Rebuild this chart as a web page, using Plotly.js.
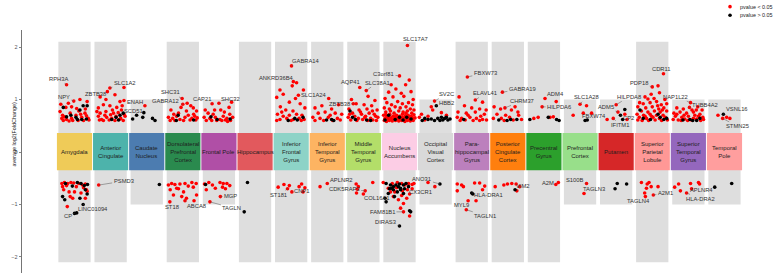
<!DOCTYPE html>
<html>
<head>
<meta charset="utf-8">
<script src="https://cdn.plot.ly/plotly-3.0.1.min.js"></script>
<style>
  html, body { margin: 0; padding: 0; background: #fff; }
  #chart { width: 779px; height: 279px; }
</style>
</head>
<body>
<div id="chart"></div>
<script>
// Brain regions, in plotting order
const regions = [
  "Amygdala", "Anterior Cingulate", "Caudate Nucleus", "Dorsolateral Prefrontal Cortex",
  "Frontal Pole", "Hippocampus", "Inferior Frontal Gyrus", "Inferior Temporal Gyrus",
  "Middle Temporal Gyrus", "Nucleus Accumbens", "Occipital Visual Cortex",
  "Parahippocampal Gyrus", "Posterior Cingulate Cortex", "Precentral Gyrus",
  "Prefrontal Cortex", "Putamen", "Superior Parietal Lobule", "Superior Temporal Gyrus",
  "Temporal Pole"
];
const regionLabels = [
  "Amygdala", "Anterior<br>Cingulate", "Caudate<br>Nucleus", "Dorsolateral<br>Prefrontal<br>Cortex",
  "Frontal Pole", "Hippocampus", "Inferior<br>Frontal<br>Gyrus", "Inferior<br>Temporal<br>Gyrus",
  "Middle<br>Temporal<br>Gyrus", "Nucleus<br>Accumbens", "Occipital<br>Visual<br>Cortex",
  "Para-<br>hippocampal<br>Gyrus", "Posterior<br>Cingulate<br>Cortex", "Precentral<br>Gyrus",
  "Prefrontal<br>Cortex", "Putamen", "Superior<br>Parietal<br>Lobule", "Superior<br>Temporal<br>Gyrus",
  "Temporal<br>Pole"
];
const regionColors = [
  "#EFCB58", "#4DB3AB", "#4C7CB0", "#2A8A4E", "#B04FA6", "#E2595D", "#8DD3C7",
  "#FDB462", "#B3DE69", "#FCCDE5", "#D9D9D9", "#BC80BD", "#FF7F0E", "#2CA02C",
  "#98DF8A", "#D62728", "#FF9896", "#9467BD", "#FF9E9E"
];

// Genes per region: [jitter within column, average log2 fold change, significant (1 = p < 0.05), gene label]
const amygdala = [
  [-0.22,1.28,1,"RPH3A"],[-0.02,0.97,1,"NPY"],[0.15,1.0,1],[0.35,0.96,1],[-0.38,0.91,1],[-0.17,0.93,1],
  [-0.24,0.85,1],[-0.08,0.86,1],[0.06,0.83,1],[0.30,0.82,1],[-0.33,0.70,1],[-0.12,0.74,1],[0.04,0.70,1],
  [0.29,0.74,1],[-0.35,0.64,1],[-0.22,0.62,1],[-0.08,0.64,1],[0.20,0.66,1],[0.38,0.64,1],[-0.31,0.60,1],
  [-0.15,0.59,1],[0.10,0.60,1],[0.25,0.60,1],[0.40,0.61,1],[-0.40,0.77,1],[0.12,0.78,1],[-0.28,0.67,1],
  [0.33,0.69,1],[-0.05,0.60,1],[0.17,0.72,1],
  [-0.31,0.85,0],[0.15,0.80,0],[0.24,0.88,0],[0.35,0.88,0],[-0.10,0.70,0],[0.04,0.66,0],[0.20,0.62,0],
  [0.33,0.63,0],[-0.22,0.67,0],[0.08,0.62,0],
  [-0.35,-0.60,1],[-0.28,-0.58,1],[-0.19,-0.60,1],[-0.10,-0.58,1],[-0.02,-0.59,1],[0.12,-0.60,1],
  [0.22,-0.63,1],[0.30,-0.61,1],[-0.33,-0.66,1],[-0.22,-0.64,1],[0.05,-0.66,1],[0.25,-0.68,1],
  [0.33,-0.72,1],[-0.30,-0.72,1],[-0.15,-0.76,1],[0.0,-0.76,1],[0.18,-0.78,1],[0.35,-0.75,1],
  [-0.12,-0.85,1],[-0.05,-0.88,1],[0.30,-0.88,1],[-0.20,-1.04,1],
  [-0.25,-0.60,0],[0.08,-0.58,0],[0.18,-0.60,0],[0.27,-0.64,0],[0.36,-0.62,0],[-0.06,-0.65,0],
  [0.35,-0.80,0],[0.30,-0.72,0],[-0.33,-0.85,0],[-0.27,-0.91,0],[0.15,-0.88,0],[0.24,-1.0,0,"LINC01094"],
  [0.0,-1.17,0,"CP"],[0.06,-1.16,0]
];
const anteriorCingulate = [
  [0.37,1.23,1],[-0.02,1.22,1,"SLC1A2"],[-0.09,1.15,1,"ZBTB38"],[-0.29,1.05,1],[-0.13,1.0,1],[0.26,0.96,1],
  [0.37,0.98,1],[0.12,1.09,1],[-0.34,0.84,1],[-0.20,0.90,1],[-0.02,0.88,1],[0.17,0.85,1],[0.30,0.80,1],
  [-0.29,0.74,1],[-0.13,0.77,1],[0.08,0.74,1],[0.21,0.75,1],[0.37,0.72,1],[-0.34,0.68,1],[-0.25,0.62,1],
  [-0.11,0.66,1],[0.03,0.64,1],[0.15,0.68,1],[0.28,0.64,1],[0.40,0.68,1],[-0.31,0.61,1],[-0.20,0.60,1],
  [-0.04,0.61,1],[0.12,0.60,1],[0.24,0.62,1],[0.35,0.60,1],[-0.16,0.70,1],[0.05,0.80,1],[0.32,0.88,1],
  [-0.38,0.77,1],[0.0,0.71,1],
  [0.03,0.62,0],[0.15,0.66,0],[0.26,0.70,0],[0.35,0.74,0],[0.22,0.61,0],
  [-0.33,-0.63,1,"PSMD3"]
];
const caudateNucleus = [
  [-0.05,0.88,1,"ENAH"],[-0.08,0.75,0,"SCD51"],[-0.39,0.63,0],[-0.28,0.70,0],[-0.11,0.66,0],
  [0.16,0.64,0],[0.23,0.60,0],
  [0.35,-0.62,0]
];
const dorsolateralPFC = [
  [-0.02,1.02,1,"SHC31"],[0.0,0.91,1,"GABRA12"],[0.12,0.93,1],[-0.33,0.80,1],[0.29,0.84,1],[0.38,0.78,1],
  [-0.40,0.66,1],[-0.28,0.64,1],[-0.17,0.68,1],[-0.08,0.62,1],[0.06,0.66,1],[0.15,0.70,1],[0.25,0.64,1],
  [0.33,0.68,1],[-0.35,0.60,1],[-0.22,0.60,1],[0.02,0.60,1],[0.20,0.61,1],[0.36,0.61,1],[-0.12,0.74,1],
  [0.10,0.78,1],[0.30,0.72,1],[-0.25,0.72,1],[0.22,0.88,1],[-0.05,0.85,1],[0.40,0.65,1],
  [-0.13,0.70,0],[-0.18,0.60,0],[0.30,0.61,0],
  [-0.40,-0.63,1],[-0.31,-0.60,1],[-0.22,-0.62,1],[-0.08,-0.61,1],[0.06,-0.60,1],[0.25,-0.58,1],
  [0.37,-0.60,1],[-0.35,-0.72,1],[-0.17,-0.69,1],[0.02,-0.76,1],[0.29,-0.67,1],[-0.26,-0.82,1],
  [-0.03,-0.85,1],[0.10,-0.88,1],[0.31,-0.93,1],[0.38,-0.82,1],[-0.36,-0.95,1,"ST18"],
  [0.06,-0.93,1,"ABCA8"],[0.15,-0.65,1],[-0.12,-0.70,1]
];
const frontalPole = [
  [-0.19,0.92,1,"CAP21"],[0.0,0.93,1,"SHC32"],[0.35,0.95,1],[0.28,0.85,1],[-0.38,0.80,1],[-0.30,0.74,1],
  [-0.16,0.72,1],[0.05,0.80,1],[0.15,0.76,1],[0.30,0.72,1],[-0.41,0.66,1],[-0.25,0.64,1],[-0.10,0.66,1],
  [0.03,0.62,1],[0.12,0.68,1],[0.22,0.64,1],[0.38,0.66,1],[-0.35,0.60,1],[-0.20,0.60,1],[-0.06,0.60,1],
  [0.08,0.60,1],[0.18,0.61,1],[0.32,0.60,1],[-0.12,0.80,1],[0.24,0.58,1],
  [-0.22,0.67,0],[0.31,0.63,0],[-0.05,0.62,0],
  [-0.28,-0.58,1],[0.03,-0.58,1],[0.12,-0.60,1],[0.22,-0.60,1],[-0.35,-0.72,1],[-0.10,-0.69,1],
  [0.10,-0.67,1],[0.30,-0.64,1],[-0.40,-0.61,1],[-0.18,-0.63,1],[0.04,-0.85,1,"MGP"],
  [-0.25,-0.95,1,"TAGLN"],[0.18,-0.70,1],
  [-0.37,-0.62,0]
];
const hippocampus = [
  [-0.21,-0.58,0],[-0.30,-1.14,0]
];
const inferiorFrontal = [
  [0.01,1.64,1,"GABRA14"],[0.06,1.34,1,"ANKRD36B4"],[0.15,1.32,1],[0.03,1.26,1],[-0.31,1.18,1],[0.34,1.18,1],
  [-0.22,1.10,1],[0.20,1.08,1],[-0.40,1.04,1],[0.12,1.02,1],[-0.05,0.95,1],[0.25,0.92,1],[-0.30,0.86,1],
  [0.38,0.84,1],[-0.15,0.80,1],[0.05,0.78,1],[-0.38,0.72,1],[-0.22,0.68,1],[-0.05,0.70,1],[0.15,0.72,1],
  [0.30,0.70,1],[-0.31,0.62,1],[-0.12,0.64,1],[0.06,0.62,1],[0.22,0.64,1],[0.36,0.62,1],[-0.40,0.60,1],
  [0.0,0.60,1],[0.28,0.60,1],[-0.26,0.76,1],
  [0.10,0.64,0],[0.17,0.61,0],[-0.08,0.60,0],[0.33,0.66,0],
  [-0.36,-0.67,1],[-0.05,-0.64,1],[0.22,-0.66,1],[0.29,-0.61,1],[0.38,-0.68,1],[0.33,-0.76,1],
  [0.02,-0.76,1,"CNP1"],[-0.10,-0.70,1,"ST181"],[-0.20,-0.62,1]
];
const inferiorTemporal = [
  [0.04,1.02,1,"SLC1A24"],[-0.34,0.84,1],[-0.15,0.88,1],[0.12,0.82,1],[0.31,0.90,1],[-0.25,0.74,1],
  [-0.06,0.76,1],[0.22,0.74,1],[0.40,0.72,1],[-0.40,0.66,1],[-0.20,0.64,1],[0.03,0.66,1],[0.28,0.64,1],
  [-0.34,0.60,1],[-0.10,0.60,1],[0.15,0.60,1],[0.36,0.61,1],[0.08,0.70,1],
  [0.12,0.62,0],[0.18,0.60,0],[-0.02,0.61,0],
  [0.0,-0.60,1,"APLNR2"],[-0.20,-0.66,1]
];
const middleTemporal = [
  [-0.10,1.23,1,"AQP41"],[0.08,1.17,1,"SLC38A1"],[-0.33,1.0,1],[0.13,1.06,1],[0.32,0.98,1],[-0.20,0.92,1],
  [0.02,0.90,1],[0.23,0.88,1],[-0.40,0.82,1],[-0.12,0.80,1],[0.10,0.82,1],[0.38,0.80,1],[-0.30,0.74,1],
  [-0.05,0.72,1],[0.16,0.74,1],[0.30,0.72,1],[-0.42,0.66,1],[-0.24,0.68,1],[-0.14,0.64,1],[0.04,0.66,1],
  [0.20,0.64,1],[0.40,0.66,1],[-0.35,0.61,1],[-0.18,0.60,1],[-0.02,0.62,1],[0.12,0.60,1],[0.26,0.61,1],
  [0.36,0.60,1],[-0.08,0.76,1],[0.25,0.78,1],[-0.28,0.92,1,"ZBTB38"],[0.06,0.68,1],[-0.38,0.72,1],[0.34,0.68,1],
  [-0.37,0.78,0],[-0.30,0.66,0],[0.09,0.61,0],[-0.22,0.62,0],[0.20,0.60,0],
  [-0.20,-0.61,1],[-0.14,-0.66,1],[0.26,-0.58,1],[-0.17,-0.71,1],[-0.19,-0.78,1],
  [0.05,-0.74,1,"CDK5RAP3"],[0.0,-0.80,1,"COL16A1"]
];
const nucleusAccumbens = [
  [0.22,2.03,1,"SLC17A7"],[0.0,1.45,1,"C3orf81"],[0.27,1.37,1],[-0.23,1.28,1],[0.17,1.28,1],[-0.30,1.14,1],
  [-0.10,1.20,1],[0.05,1.12,1],[0.32,1.15,1],[-0.40,1.02,1],[-0.18,1.05,1],[0.12,1.06,1],[0.38,1.0,1],
  [-0.35,0.94,1],[-0.22,0.90,1],[-0.05,0.96,1],[0.08,0.92,1],[0.25,0.94,1],[0.36,0.90,1],[-0.42,0.84,1],
  [-0.28,0.82,1],[-0.12,0.86,1],[0.02,0.84,1],[0.18,0.86,1],[0.30,0.82,1],[0.40,0.80,1],[-0.38,0.76,1],
  [-0.25,0.78,1],[-0.15,0.74,1],[-0.02,0.78,1],[0.10,0.76,1],[0.22,0.78,1],[0.34,0.74,1],
  [-0.44,0.70,1],[-0.35,0.68,1],[-0.27,0.72,1],[-0.18,0.68,1],[-0.08,0.70,1],[0.0,0.68,1],[0.08,0.72,1],
  [0.16,0.69,1],[0.24,0.70,1],[0.32,0.68,1],[0.40,0.71,1],[-0.40,0.64,1],[-0.32,0.62,1],[-0.24,0.65,1],
  [-0.15,0.63,1],[-0.06,0.65,1],[0.03,0.63,1],[0.12,0.65,1],[0.20,0.62,1],[0.28,0.64,1],[0.36,0.63,1],
  [0.43,0.65,1],[-0.42,0.60,1],[-0.36,0.58,1],[-0.28,0.60,1],[-0.20,0.59,1],[-0.11,0.60,1],[-0.02,0.59,1],
  [0.06,0.60,1],[0.15,0.58,1],[0.22,0.60,1],[0.30,0.59,1],[0.38,0.60,1],[-0.31,0.66,1],[-0.13,0.67,1],
  [0.06,0.66,1],[0.26,0.67,1],[-0.38,0.72,1],[0.18,0.74,1],[-0.05,0.62,1],[0.35,0.66,1],[-0.22,0.62,1],
  [-0.30,0.70,0],[-0.12,0.62,0],[0.10,0.61,0],[0.32,0.63,0],[-0.40,0.61,0],[0.0,0.66,0],[0.20,0.66,0],
  [-0.37,-0.60,0],[-0.25,-0.63,0],[-0.17,-0.66,0],[-0.10,-0.63,0],[-0.03,-0.66,0],[0.03,-0.69,0],
  [0.11,-0.63,0],[0.18,-0.60,0],[-0.31,-0.79,0],[-0.40,-0.88,0],[-0.37,-0.95,0],[0.03,-0.72,0],
  [0.11,-0.79,0],[-0.17,-0.72,0],[-0.06,-0.76,0],[0.0,-0.61,0],[-0.22,-0.69,0],[0.14,-0.70,0],
  [0.31,-1.14,0],[0.0,-1.41,0,"DIRAS3"],[0.28,-1.12,0],[-0.14,-0.85,0],[0.25,-0.66,0],[-0.28,-0.70,0],
  [-0.45,-0.58,1],[-0.20,-0.60,1],[-0.06,-0.58,1],[0.06,-0.60,1],[0.15,-0.63,1],[0.25,-0.60,1],
  [0.35,-0.62,1],[-0.31,-0.69,1],[-0.13,-0.76,1],[0.08,-0.74,1],[0.22,-0.72,1],[0.35,-0.70,1],
  [-0.17,-0.85,1],[-0.03,-0.91,1],[0.11,-0.98,1],[0.03,-1.07,1],[0.06,-0.83,1],[0.28,-0.80,1],
  [0.11,-1.14,1,"FAM81B1"],[0.28,-1.22,1],[-0.25,-0.76,1],[0.20,-0.88,1],[-0.08,-0.68,1],[0.40,-0.60,1]
];
const occipitalVisual = [
  [-0.03,0.97,1,"SV2C"],[-0.39,0.72,1],[-0.12,0.86,1],[-0.08,0.80,1],[-0.30,0.61,1],[-0.45,0.66,1],
  [0.16,0.75,1],[-0.21,0.68,1],[0.30,0.70,1],
  [0.02,0.88,0,"HBB2"],[-0.30,0.64,0],[-0.21,0.62,0],[-0.12,0.63,0],[0.06,0.64,0],[0.16,0.66,0],
  [0.25,0.64,0],[0.34,0.61,0],[-0.03,0.60,0],[0.12,0.60,0],[0.30,0.66,0],[-0.37,0.60,0],[0.40,0.63,0],
  [0.20,0.61,0],
  [0.12,-0.61,0,"ANO31"],[-0.21,-0.58,1],[-0.02,-0.66,1,"CX3CR1"]
];
const parahippocampal = [
  [-0.12,1.43,1,"FBXW73"],[-0.35,1.05,1],[0.10,0.99,1,"ELAVL41"],[0.30,0.95,1],[-0.20,0.88,1],[0.0,0.84,1],
  [0.22,0.82,1],[-0.38,0.76,1],[-0.15,0.74,1],[0.10,0.76,1],[0.35,0.72,1],[-0.40,0.66,1],[-0.28,0.64,1],
  [-0.05,0.66,1],[0.13,0.64,1],[0.30,0.62,1],[-0.32,0.60,1],[-0.18,0.61,1],[0.04,0.60,1],[0.22,0.60,1],
  [0.41,0.61,1],[-0.10,0.70,1],[0.25,0.68,1],[0.40,0.80,1],
  [-0.22,0.62,0],
  [-0.40,-0.61,1],[-0.28,-0.63,1],[-0.23,-0.66,1],[0.08,-0.59,1],[0.22,-0.59,1],[0.36,-0.65,1],
  [-0.40,-0.74,1],[-0.10,-0.93,1,"MYL9"],[-0.15,-1.10,1,"TAGLN1"],[0.12,-0.93,1],[0.30,-0.72,1],
  [0.0,-0.78,0,"HLA-DRA1"],[0.03,-0.80,0]
];
const posteriorCingulate = [
  [-0.15,1.14,1,"GABRA19"],[-0.38,0.86,1],[-0.20,0.82,1],[0.10,0.80,1],[0.20,0.86,1],[0.28,0.76,1],
  [-0.30,0.72,1],[-0.06,0.70,1],[0.30,0.70,1],[-0.40,0.64,1],[-0.18,0.64,1],[0.05,0.66,1],[0.38,0.62,1],
  [-0.10,0.60,1],[0.15,0.61,1],[-0.08,0.84,1,"CHRM37"],
  [-0.25,0.61,0],[0.08,0.62,0],[0.25,0.62,0],[-0.02,0.60,0],
  [-0.35,-0.66,1],[-0.11,-0.63,1],[-0.01,-0.61,1],[0.11,-0.60,1],[0.23,-0.61,1],[0.25,-0.74,1,"VIM2"],
  [0.33,-0.66,1],
  [0.20,-0.72,0]
];
const precentralGyrus = [
  [0.03,1.02,1,"ADM4"],[0.34,0.96,1],[-0.28,0.64,1],[-0.16,0.66,1],[0.17,0.66,1],[0.26,0.67,1],
  [-0.05,0.86,1,"HILPDA6"],
  [-0.39,0.62,0],[0.35,0.62,0],[0.42,0.60,0],[0.12,0.66,0],
  [0.33,-0.62,1,"A2M"],[0.40,-0.58,1]
];
const prefrontalCortex = [
  [-0.19,0.70,1],[0.18,0.88,1],[0.32,0.74,1],[0.0,0.91,1,"SLC1A28"],[0.09,0.74,1,"FBXW74"],
  [0.14,0.60,0],[0.20,0.61,0],
  [0.18,-0.60,1,"S100B"],[0.11,-0.79,1,"TAGLN3"]
];
const putamen = [
  [-0.08,0.64,1,"IFITM1"],[0.0,0.90,1,"HILPDA8"],[0.24,0.72,1],[0.05,0.76,1,"ADM5"],[-0.25,0.62,1],[0.30,0.62,1],
  [0.24,0.81,0],[0.12,0.70,0,"CP2"],[0.18,0.62,0],
  [0.03,-0.60,0],[0.29,-0.61,0],[-0.03,-0.70,0]
];
const superiorParietal = [
  [0.31,1.49,1,"CDR11"],[0.0,1.24,1,"PDP18"],[0.16,1.26,1],[0.20,1.13,1],[-0.03,1.10,1],[-0.20,1.05,1],
  [-0.12,1.01,1],[0.05,1.02,1],[0.35,1.0,1],[-0.35,0.94,1],[-0.25,0.92,1],[-0.06,0.94,1],[0.12,0.96,1],
  [0.25,0.90,1],[0.40,0.92,1],[-0.40,0.86,1],[-0.18,0.84,1],[0.0,0.86,1],[0.18,0.82,1],[0.32,0.84,1],
  [-0.30,0.78,1],[-0.12,0.76,1],[0.06,0.78,1],[0.22,0.76,1],[0.40,0.78,1],[-0.42,0.72,1],[-0.24,0.70,1],
  [-0.06,0.72,1],[0.12,0.70,1],[0.30,0.70,1],[-0.36,0.66,1],[-0.16,0.64,1],[0.02,0.66,1],[0.20,0.64,1],
  [0.36,0.66,1],[-0.40,0.61,1],[-0.28,0.60,1],[-0.10,0.60,1],[0.08,0.61,1],[0.26,0.60,1],[0.42,0.61,1],
  [-0.20,0.68,1],[0.28,0.80,1],[-0.02,0.68,1],[0.15,0.88,1],
  [-0.34,0.80,0],[0.16,0.72,0],[-0.25,0.64,0],[0.32,0.62,0],[-0.05,0.62,0],[0.22,0.66,0],[0.40,0.64,0],
  [-0.30,-0.58,1],[-0.14,-0.61,1],[-0.09,-0.58,1],[-0.03,-0.66,1],[-0.16,-0.69,1],[0.16,-0.66,1],
  [-0.21,-0.78,1],[-0.19,-0.85,1,"TAGLN4"],[0.03,-0.82,1,"A2M1"]
];
const superiorTemporal = [
  [0.06,0.94,1,"NAP1L22"],[0.03,0.85,1,"TUBB4A2"],[-0.32,0.84,1],[-0.14,0.82,1],[0.10,0.80,1],[0.38,0.80,1],
  [-0.40,0.74,1],[-0.23,0.76,1],[-0.05,0.74,1],[0.14,0.76,1],[0.32,0.72,1],[-0.36,0.68,1],[-0.18,0.66,1],
  [0.0,0.68,1],[0.18,0.70,1],[0.40,0.66,1],[-0.42,0.62,1],[-0.28,0.61,1],[-0.10,0.63,1],[0.08,0.61,1],
  [0.23,0.63,1],[0.34,0.60,1],[-0.20,0.60,1],[0.14,0.64,1],[-0.32,0.72,1],[0.26,0.86,1],[0.28,0.68,1],
  [-0.12,0.70,1],[0.42,0.62,1],[-0.02,0.60,1],[0.22,0.80,1],
  [0.04,0.62,0],[0.23,0.60,0],[0.32,0.64,0],[-0.15,0.61,0],[0.12,0.60,0],
  [-0.38,-0.67,1],[-0.27,-0.61,1],[-0.22,-0.74,1],[0.06,-0.60,1],[0.28,-0.58,1],[0.31,-0.61,1],
  [-0.05,-0.78,1,"HLA-DRA2"],[0.09,-0.70,1,"APLNR4"]
];
const temporalPole = [
  [-0.18,0.70,1],[-0.05,0.64,1,"STMN25"],[0.06,0.66,1],[0.15,0.64,1],
  [-0.03,0.72,0,"VSNL16"],
  [-0.27,-0.67,0],[0.20,-0.60,0]
];
const regionGenes = [
  amygdala, anteriorCingulate, caudateNucleus, dorsolateralPFC, frontalPole, hippocampus,
  inferiorFrontal, inferiorTemporal, middleTemporal, nucleusAccumbens, occipitalVisual,
  parahippocampal, posteriorCingulate, precentralGyrus, prefrontalCortex, putamen,
  superiorParietal, superiorTemporal, temporalPole
];

const legendNames = ["pvalue < 0.05", "pvalue > 0.05"];
const yTicks = [-2, -1, 0, 1, 2];

// Label placement: [region index, gene, text offset x (px), text offset y (px)]
const labelPlacement = [
  [0,"RPH3A",-8,-6],[0,"NPY",-10,-4],[1,"ZBTB38",-12,2],[1,"SLC1A2",15,-5],[2,"ENAH",-10,-4],
  [2,"SCD51",-10,-2],[3,"SHC31",-12,-6],[3,"GABRA12",-17,-3],[4,"CAP21",-10,-5],[4,"SHC32",12,-4],
  [6,"GABRA14",14,-5],[6,"ANKRD36B4",-17,-4],[7,"SLC1A24",-15,-3],[8,"ZBTB38",-14,0],[8,"AQP41",-9,-5],
  [8,"SLC38A1",11,-8],[9,"SLC17A7",8,-6],[9,"C3orf81",-16,-2],[10,"SV2C",12,-7],[10,"HBB2",10,-3],
  [11,"FBXW73",18,-4],[11,"ELAVL41",10,-7],[12,"GABRA19",20,-3],[12,"CHRM37",17,-7],[13,"ADM4",10,-4],
  [13,"HILPDA6",17,0],[14,"SLC1A28",6,-7],[14,"FBXW74",11,3],[15,"HILPDA8",13,-8],[15,"ADM5",-12,-5],
  [15,"CP2",8,3],[15,"IFITM1",7,7],[16,"CDR11",-2,-5],[16,"PDP18",-13,-4],[17,"NAP1L22",-15,-6],
  [17,"TUBB4A2",16,-2],[18,"VSNL16",14,-5],[18,"STMN25",15,8],
  [0,"CP",-7,3],[0,"LINC01094",10,5],[1,"PSMD3",25,-4],[3,"ST18",2,5],[3,"ABCA8",11,5],[4,"MGP",10,-1],
  [4,"TAGLN",22,6],[6,"ST181",-9,6],[6,"CNP1",10,-1],[7,"APLNR2",14,-4],[8,"CDK5RAP3",-21,-2],
  [8,"COL16A1",13,4],[9,"FAM81B1",-21,0],[9,"DIRAS3",-14,-4],[10,"CX3CR1",-14,5],[10,"ANO31",-18,-5],
  [11,"MYL9",-7,4],[11,"TAGLN1",19,6],[11,"HLA-DRA1",17,2],[12,"VIM2",6,-5],[13,"A2M",-8,-2],
  [14,"S100B",-12,-4],[14,"TAGLN3",10,-4],[16,"TAGLN4",-7,4],[16,"A2M1",12,-2],[17,"APLNR4",10,1],
  [17,"HLA-DRA2",14,6]
];

const FONT = "Liberation Sans, Arial, sans-serif";

// Collect points into the two significance groups
const sig = { x: [], y: [], text: [] };
const nonSig = { x: [], y: [], text: [] };
regionGenes.forEach((genes, i) => {
  genes.forEach(g => {
    const target = g[2] ? sig : nonSig;
    target.x.push(i + g[0]);
    target.y.push(g[1]);
    target.text.push((g[3] || "") + " (" + regions[i] + ")");
  });
});

const traces = [
  { type: "scatter", mode: "markers", name: legendNames[0], x: sig.x, y: sig.y, text: sig.text,
    hoverinfo: "text+y", showlegend: false, cliponaxis: false,
    marker: { color: "#FF0000", size: 3.6, line: { width: 0 } } },
  { type: "scatter", mode: "markers", name: legendNames[1], x: nonSig.x, y: nonSig.y, text: nonSig.text,
    hoverinfo: "text+y", showlegend: false, cliponaxis: false,
    marker: { color: "#000000", size: 3.6, line: { width: 0 } } }
];

// Grey column panels sized from each region's largest |fold change|, and the coloured region tiles
const shapes = [];
regionGenes.forEach((genes, i) => {
  const maxAbs = Math.max(...genes.map(g => Math.abs(g[1])));
  const ext = maxAbs > 1 ? 2.1 : 1.0;
  shapes.push({ type: "rect", layer: "below", xref: "x", yref: "y",
    x0: i - 0.447, x1: i + 0.447, y0: -ext, y1: ext,
    fillcolor: "#DEDEDE", line: { width: 0 } });
});
regions.forEach((r, i) => {
  shapes.push({ type: "rect", layer: "below", xref: "x", yref: "y",
    x0: i - 0.487, x1: i + 0.487, y0: -0.35, y1: 0.36,
    fillcolor: regionColors[i], line: { width: 0 } });
});

// Legend keys
const legendColors = ["#FF0000", "#000000"];
const legendY = [1.096, 1.061];
legendColors.forEach((c, k) => {
  shapes.push({ type: "circle", xref: "paper", yref: "paper", xsizemode: "pixel", ysizemode: "pixel",
    xanchor: 0.9353, yanchor: legendY[k], x0: -1.8, x1: 1.8, y0: -1.8, y1: 1.8,
    fillcolor: c, line: { width: 0 } });
});

const annotations = [];
regionLabels.forEach((lab, i) => {
  annotations.push({ x: i, y: 0.005, xref: "x", yref: "y", text: lab, showarrow: false,
    font: { family: FONT, size: 6, color: "#1E1E1E" }, align: "center" });
});
labelPlacement.forEach(([ri, gene, ax, ay]) => {
  const g = regionGenes[ri].find(p => p[3] === gene);
  if (!g) return;
  annotations.push({ x: ri + g[0], y: g[1], xref: "x", yref: "y", text: gene,
    showarrow: true, arrowhead: 0, arrowwidth: 0.5, arrowcolor: "#555", standoff: 0,
    ax: ax, ay: ay, font: { family: FONT, size: 5.8, color: "#333" } });
});
legendNames.forEach((n, k) => {
  annotations.push({ x: 0.9458, y: legendY[k], xref: "paper", yref: "paper", text: n,
    showarrow: false, xanchor: "left", yanchor: "middle",
    font: { family: FONT, size: 5.4, color: "#222" } });
});
annotations.push({ x: -0.0159, y: 0.57, xref: "paper", yref: "paper",
  text: "average log2(FoldChange)", textangle: -90, showarrow: false,
  font: { family: FONT, size: 5.4, color: "#222" } });

const layout = {
  width: 779, height: 279,
  margin: { l: 22, r: 0, t: 30, b: 6, pad: 0 },
  paper_bgcolor: "#FFFFFF", plot_bgcolor: "#FFFFFF",
  showlegend: false,
  xaxis: { visible: false, range: [-1.454, 19.51], fixedrange: true },
  yaxis: { range: [-2.305, 2.324], tickvals: yTicks, ticks: "outside", ticklen: 2.5,
    tickwidth: 0.8, tickcolor: "#666", showline: true, linecolor: "#666", linewidth: 0.9,
    showgrid: false, zeroline: false, fixedrange: true,
    tickfont: { family: FONT, size: 5.5, color: "#555" } },
  shapes: shapes,
  annotations: annotations
};

Plotly.newPlot("chart", traces, layout, { displayModeBar: false, staticPlot: true });
</script>
</body>
</html>
